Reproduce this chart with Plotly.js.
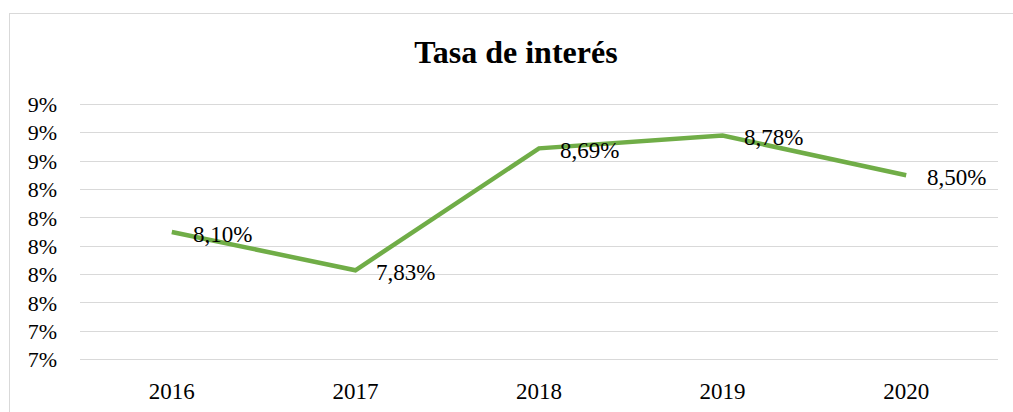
<!DOCTYPE html>
<html>
<head>
<meta charset="utf-8">
<script src="https://cdn.plot.ly/plotly-3.0.1.min.js"></script>
<style>
  html, body { margin: 0; padding: 0; background: #fff; overflow: hidden; }
  #wrap { position: relative; width: 1013px; height: 412px; }
  #chart { position: absolute; left: 0; top: 0; width: 1013px; height: 412px; }
  #frame { position: absolute; left: 9px; top: 13px; width: 1020px; height: 420px;
           border: 1px solid #d9d9d9; box-sizing: border-box; pointer-events: none; }
</style>
</head>
<body>
<div id="wrap">
  <div id="chart"></div>
  <div id="frame"></div>
</div>
<script>
const years = ['2016', '2017', '2018', '2019', '2020'];
const rates = [8.10, 7.83, 8.69, 8.78, 8.50];
const rateLabels = ['8,10%', '7,83%', '8,69%', '8,78%', '8,50%'];
const yTickVals = [7.2, 7.4, 7.6, 7.8, 8.0, 8.2, 8.4, 8.6, 8.8, 9.0];
const yTickText = ['7%', '7%', '8%', '8%', '8%', '8%', '8%', '9%', '9%', '9%'];

const serif = "'Liberation Serif', 'Times New Roman', serif";

const trace = {
  x: years,
  y: rates,
  type: 'scatter',
  mode: 'lines',
  line: { color: '#70AD47', width: 4.5 },
  hoverinfo: 'skip'
};

const annotations = years.map((yr, i) => ({
  x: i, y: rates[i], xref: 'x', yref: 'y',
  text: rateLabels[i], showarrow: false,
  xanchor: 'left', yanchor: 'middle',
  xshift: 19, yshift: -2,
  font: { family: serif, size: 23, color: '#000' }
}));

const layout = {
  width: 1013, height: 412,
  margin: { l: 80, r: 15, t: 103, b: 51 },
  paper_bgcolor: '#fff', plot_bgcolor: '#fff',
  showlegend: false,
  title: {
    text: '<b>Tasa de interés</b>',
    font: { family: serif, size: 32, color: '#000' },
    x: 516 / 1013, xanchor: 'center', xref: 'container',
    y: 1 - 52 / 412, yanchor: 'middle', yref: 'container'
  },
  xaxis: {
    type: 'category',
    range: [-0.5, 4.5],
    showgrid: false, zeroline: false, showline: false,
    ticks: '', ticklabelstandoff: 14,
    tickfont: { family: serif, size: 23, color: '#000' }
  },
  yaxis: {
    range: [7.19, 9.01],
    tickmode: 'array', tickvals: yTickVals, ticktext: yTickText,
    showgrid: true, gridcolor: '#d9d9d9', gridwidth: 1,
    zeroline: false, showline: false, ticks: '',
    ticklabelstandoff: 22,
    tickfont: { family: serif, size: 22, color: '#000' }
  },
  annotations: annotations
};

Plotly.newPlot('chart', [trace], layout, { staticPlot: true, displayModeBar: false });
</script>
</body>
</html>
